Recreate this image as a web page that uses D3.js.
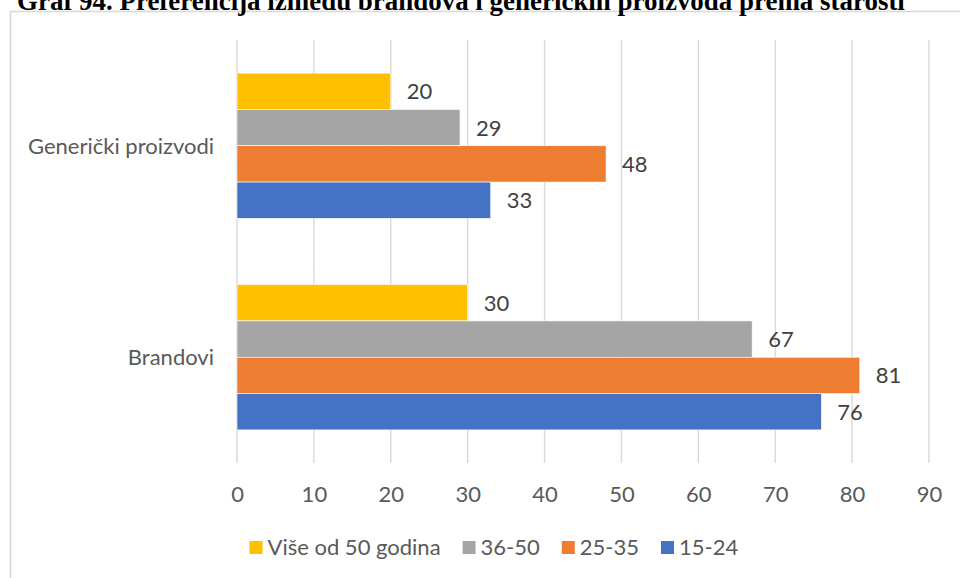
<!DOCTYPE html>
<html>
<head>
<meta charset="utf-8">
<script src="https://cdn.jsdelivr.net/npm/d3@7"></script>
<style>
  html, body { margin: 0; padding: 0; background: #fff; }
  svg { display: block; }
</style>
</head>
<body>
<svg id="chart" width="960" height="578"></svg>
<script>
const title = "Graf 94. Preferencija između brandova i generičkih proizvoda prema starosti";
const categories = ["Generički proizvodi", "Brandovi"];
const seriesNames = ["Više od 50 godina", "36-50", "25-35", "15-24"];
const seriesColors = ["#FFC000", "#A5A5A5", "#ED7D31", "#4472C4"];
const valuesVise50 = [20, 30];
const values3650 = [29, 67];
const values2535 = [48, 81];
const values1524 = [33, 76];
const tickValues = [0, 10, 20, 30, 40, 50, 60, 70, 80, 90];

const seriesValues = [valuesVise50, values3650, values2535, values1524];

const svg = d3.select("#chart");
const FONT = "Lato, 'Open Sans', sans-serif";
const FS = 22;

// Frame
svg.append("rect")
  .attr("x", 10.5).attr("y", 11.5)
  .attr("width", 1000).attr("height", 1000)
  .attr("fill", "none").attr("stroke", "#d9d9d9").attr("stroke-width", 1.6);

// Title (clipped at top as in the reference)
const t = svg.append("text")
  .attr("x", 17).attr("y", 9.5)
  .attr("font-family", "'Liberation Serif', 'Times New Roman', serif")
  .attr("font-weight", "bold")
  .attr("font-size", 20)
  .attr("fill", "#000")
  .text(title);
const tw = t.node().getComputedTextLength();
t.attr("font-size", 20 * 888 / tw);

const x = d3.scaleLinear().domain([0, 90]).range([237, 929]);
const y0 = d3.scaleBand().domain(categories).range([40, 463])
  .paddingInner(0.313).paddingOuter(0.1565);
const y1 = d3.scaleBand().domain(seriesNames).range([0, y0.bandwidth()]);

// Gridlines
svg.append("g").selectAll("line").data(tickValues).join("line")
  .attr("x1", d => x(d)).attr("x2", d => x(d))
  .attr("y1", 40).attr("y2", 463)
  .attr("stroke", "#d9d9d9").attr("stroke-width", 1.4);

// Bars
const groups = svg.append("g").selectAll("g").data(categories).join("g")
  .attr("transform", c => `translate(0,${y0(c)})`);

groups.each(function(c, ci) {
  const g = d3.select(this);
  const rows = seriesNames.map((s, si) => ({ s, si, v: seriesValues[si][ci] }));
  g.selectAll("rect").data(rows).join("rect")
    .attr("x", x(0))
    .attr("y", d => y1(d.s))
    .attr("width", d => x(d.v) - x(0))
    .attr("height", y1.bandwidth())
    .attr("fill", d => seriesColors[d.si])
    .attr("stroke", "#fff").attr("stroke-width", 0.6);
  g.selectAll("text").data(rows).join("text")
    .attr("x", d => x(d.v) + 16)
    .attr("y", d => y1(d.s) + y1.bandwidth() / 2)
    .attr("dy", "0.36em")
    .attr("font-family", FONT).attr("font-size", FS)
    .attr("fill", "#404040")
    .text(d => d.v);
});

// Category labels
svg.append("g").selectAll("text").data(categories).join("text")
  .attr("x", 214)
  .attr("y", c => y0(c) + y0.bandwidth() / 2)
  .attr("dy", "0.36em")
  .attr("text-anchor", "end")
  .attr("font-family", FONT).attr("font-size", FS)
  .attr("fill", "#595959")
  .text(c => c);

// X axis tick labels
const xAxis = d3.axisBottom(x).tickValues(tickValues).tickSize(0).tickPadding(0);
const ax = svg.append("g").attr("transform", "translate(0,486.5)").call(xAxis);
ax.select(".domain").remove();
ax.selectAll("text")
  .attr("y", 0).attr("dy", "0.72em")
  .attr("font-family", FONT).attr("font-size", FS)
  .attr("fill", "#595959");

// Legend
const legend = svg.append("g");
let lx = 249.5;
seriesNames.forEach((s, i) => {
  legend.append("rect")
    .attr("x", lx).attr("y", 541).attr("width", 13).attr("height", 13)
    .attr("fill", seriesColors[i]);
  const tt = legend.append("text")
    .attr("x", lx + 18).attr("y", 554.5)
    .attr("font-family", FONT).attr("font-size", FS)
    .attr("fill", "#595959")
    .text(s);
  lx = lx + 18 + tt.node().getComputedTextLength() + 22;
});
</script>
</body>
</html>
